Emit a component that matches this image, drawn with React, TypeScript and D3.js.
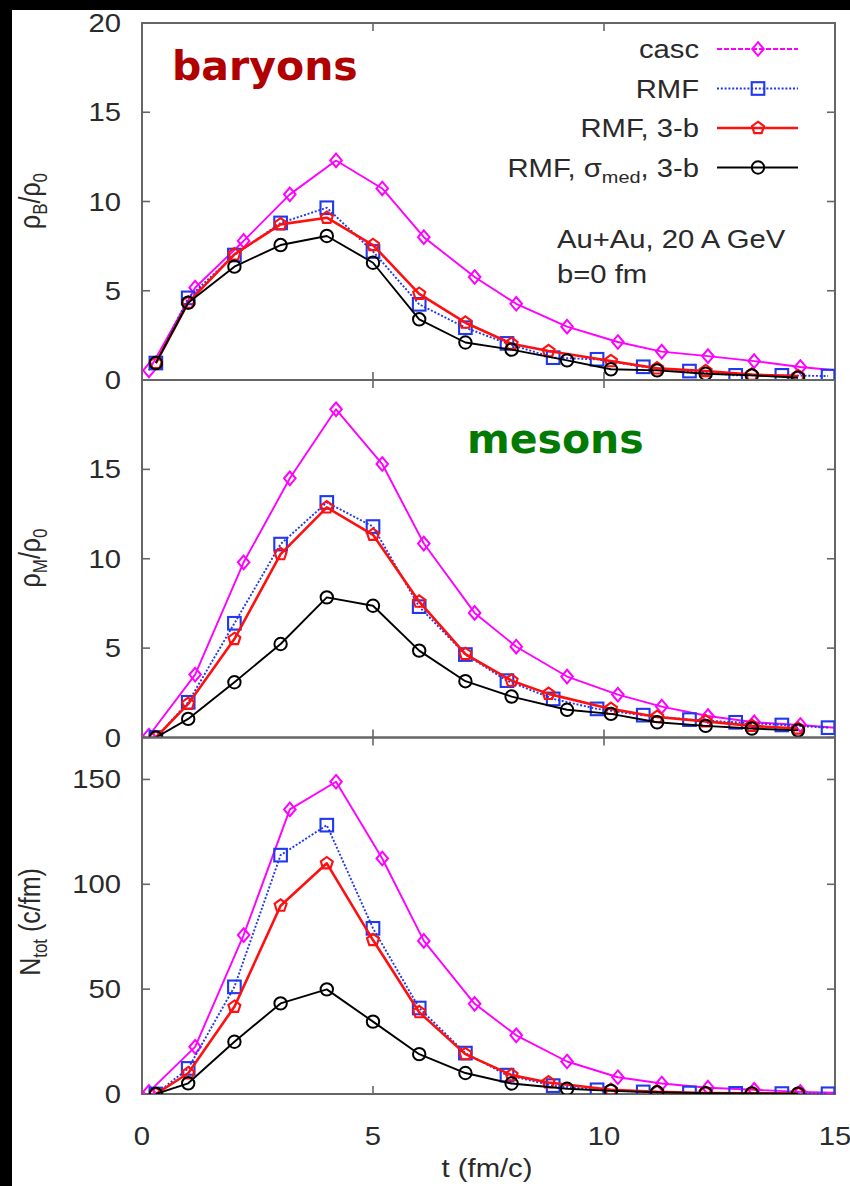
import React from "react";
import * as d3 from "d3";

// ---- data ----
const tCasc = [0.15, 1.15, 2.2, 3.2, 4.2, 5.2, 6.1, 7.2, 8.1, 9.2, 10.3, 11.25, 12.25, 13.25, 14.25, 15.2];
const tRMF = [0.3, 1, 2, 3, 4, 5, 6, 7, 7.9, 8.9, 9.85, 10.85, 11.85, 12.85, 13.85, 14.85];
const t3b = [0.3, 1, 2, 3, 4, 5, 6, 7, 8, 8.8, 10.15, 11.15, 12.2, 13.2, 14.2];
const tSig = [0.3, 1, 2, 3, 4, 5, 6, 7, 8, 9.2, 10.15, 11.15, 12.2, 13.2, 14.2];

const bCasc = [0.54, 5.17, 7.79, 10.4, 12.3, 10.73, 8.0, 5.77, 4.27, 2.99, 2.13, 1.59, 1.34, 1.06, 0.73, 0.5];
const bRMF = [0.95, 4.6, 7.0, 8.8, 9.65, 7.2, 4.24, 2.93, 2.05, 1.25, 1.16, 0.74, 0.5, 0.26, 0.26, 0.22];
const b3b = [0.95, 4.33, 7.04, 8.72, 9.09, 7.56, 4.83, 3.21, 2.03, 1.62, 1.06, 0.65, 0.5, 0.3, 0.22];
const bSig = [0.95, 4.33, 6.35, 7.56, 8.07, 6.57, 3.4, 2.1, 1.7, 1.1, 0.6, 0.54, 0.35, 0.26, 0.13];

const mCasc = [0.1, 3.52, 9.8, 14.5, 18.36, 15.3, 10.85, 6.97, 5.08, 3.41, 2.4, 1.73, 1.2, 0.85, 0.7, 0.5];
const mRMF = [0, 1.97, 6.39, 10.82, 13.15, 11.8, 7.32, 4.64, 3.18, 2.16, 1.6, 1.25, 1.0, 0.85, 0.7, 0.55];
const m3b = [0, 1.88, 5.51, 10.26, 12.87, 11.34, 7.6, 4.67, 3.18, 2.44, 1.6, 1.15, 0.9, 0.65, 0.5];
const mSig = [0, 1.04, 3.09, 5.23, 7.84, 7.37, 4.86, 3.15, 2.29, 1.55, 1.32, 0.85, 0.65, 0.5, 0.4];

const nCasc = [1, 22.5, 75.8, 135.7, 148.9, 112.3, 73, 43, 28, 15.5, 8, 5, 3, 2, 1, 0.5];
const nRMF = [0, 12.2, 51.1, 113.9, 128.2, 79, 41, 19.5, 9, 4, 2, 1, 0.5, 0.3, 0.2, 0.1];
const n3b = [0, 9.9, 41.6, 89.8, 110, 73.4, 39, 19, 9, 5.5, 2, 1, 0.5, 0.3, 0.2];
const nSig = [0, 5.1, 24.9, 43.2, 49.9, 34.5, 19, 10, 5, 2.5, 1.5, 0.8, 0.4, 0.3, 0.2];

const xTicks = [0, 5, 10, 15];
const yTicksB = [0, 5, 10, 15, 20];
const yTicksM = [0, 5, 10, 15];
const yTicksN = [0, 50, 100, 150];

const legendLabels = ["casc", "RMF", "RMF, 3-b", "RMF, σmed, 3-b"];

// ---- styles ----
const FONT = "'Liberation Sans', Arial, Helvetica, sans-serif";
const SX = 1.17; // horizontal stretch of the source lettering
const TXT = "#2a2a2a";
const series = [
  { key: "casc", color: "#ff00ff", width: 1.9, dash: null, legendDash: "5,2", marker: "diamond" },
  { key: "rmf", color: "#2038ee", width: 1.9, dash: "2,1.8", legendDash: "2,1.8", marker: "square" },
  { key: "3b", color: "#ff1010", width: 2.6, dash: null, legendDash: null, marker: "pentagon" },
  { key: "sig", color: "#000000", width: 1.9, dash: null, legendDash: null, marker: "circle" },
];

const W = 850, H = 1186;
const x = d3.scaleLinear().domain([0, 15]).range([142, 835]);

const panels = [
  { id: "p1", y: d3.scaleLinear().domain([0, 20]).range([380, 23]), ticks: yTicksB, labelTicks: yTicksB,
    data: [[tCasc, bCasc], [tRMF, bRMF], [t3b, b3b], [tSig, bSig]] },
  { id: "p2", y: d3.scaleLinear().domain([0, 20]).range([737.5, 380]), ticks: [0, 5, 10, 15, 20], labelTicks: yTicksM,
    data: [[tCasc, mCasc], [tRMF, mRMF], [t3b, m3b], [tSig, mSig]] },
  { id: "p3", y: d3.scaleLinear().domain([0, 170]).range([1094, 737.5]), ticks: yTicksN, labelTicks: yTicksN,
    data: [[tCasc, nCasc], [tRMF, nRMF], [t3b, n3b], [tSig, nSig]] },
];

function Marker({ type, cx, cy, color }: { type: string; cx: number; cy: number; color: string }) {
  if (type === "diamond") {
    const r = 6.8;
    return <path d={`M${cx},${cy - r}L${cx + r * 0.85},${cy}L${cx},${cy + r}L${cx - r * 0.85},${cy}Z`} fill="none" stroke={color} strokeWidth={2} />;
  }
  if (type === "square") {
    const r = 6.3;
    return <rect x={cx - r} y={cy - r} width={2 * r} height={2 * r} fill="none" stroke={color} strokeWidth={2.1} />;
  }
  if (type === "pentagon") {
    const r = 6.3;
    const pts = d3.range(5).map((i) => {
      const a = -Math.PI / 2 + (i * 2 * Math.PI) / 5;
      return [cx + r * Math.cos(a), cy + r * Math.sin(a)];
    });
    return <path d={"M" + pts.map((p) => p.join(",")).join("L") + "Z"} fill="none" stroke={color} strokeWidth={2.1} />;
  }
  return <circle cx={cx} cy={cy} r={6.2} fill="none" stroke={color} strokeWidth={2} />;
}

function SText({ x, y, anchor = "start", size, children, dy }: any) {
  return (
    <text transform={`translate(${x},${y}) scale(${SX},1)`} dy={dy} textAnchor={anchor} fontFamily={FONT} fontSize={size} fill={TXT}>
      {children}
    </text>
  );
}

export default function App() {
  const frameColor = "#666";
  const tickLen = 8;
  return (
    <svg width={W} height={H} style={{ position: "absolute", left: 0, top: 0 }} xmlns="http://www.w3.org/2000/svg">
      <rect x={0} y={0} width={W} height={H} fill="#000" />
      <rect x={12} y={10} width={W - 12} height={H - 10} fill="#fff" />
      <defs>
        {panels.map((p) => (
          <clipPath id={"clip-" + p.id} key={p.id}>
            <rect x={x(0)} y={p.y.range()[1]} width={x(15) - x(0)} height={p.y.range()[0] - p.y.range()[1]} />
          </clipPath>
        ))}
      </defs>

      {panels.map((p) => {
        const [y0, y1] = p.y.range();
        return (
          <g key={p.id}>
            <rect x={x(0)} y={y1} width={x(15) - x(0)} height={y0 - y1} fill="none" stroke={frameColor} strokeWidth={2} />
            {p.ticks.map((v) => (
              <g key={"yt" + v}>
                <line x1={x(0)} x2={x(0) + tickLen} y1={p.y(v)} y2={p.y(v)} stroke={frameColor} strokeWidth={1.6} />
                <line x1={x(15)} x2={x(15) - tickLen} y1={p.y(v)} y2={p.y(v)} stroke={frameColor} strokeWidth={1.6} />
              </g>
            ))}
            {xTicks.map((v) => (
              <g key={"xt" + v}>
                <line x1={x(v)} x2={x(v)} y1={y0} y2={y0 - tickLen} stroke={frameColor} strokeWidth={1.6} />
                <line x1={x(v)} x2={x(v)} y1={y1} y2={y1 + tickLen} stroke={frameColor} strokeWidth={1.6} />
              </g>
            ))}
            {p.labelTicks.map((v) => (
              <SText key={"yl" + v} x={121} y={p.y(v)} dy="0.36em" anchor="end" size={25}>{v}</SText>
            ))}
            <g clipPath={`url(#clip-${p.id})`}>
              {p.data.map(([ts, vs], si) => {
                const s = series[si];
                const pts: [number, number][] = vs.map((v, i) => [x(ts[i]), p.y(v)]);
                const path = d3.line()(pts) || "";
                return (
                  <g key={s.key}>
                    <path d={path} fill="none" stroke={s.color} strokeWidth={s.width} strokeDasharray={s.dash || undefined} strokeLinejoin="round" />
                    {pts.map(([px, py], i) => (
                      <Marker key={i} type={s.marker} cx={px} cy={py} color={s.color} />
                    ))}
                  </g>
                );
              })}
            </g>
          </g>
        );
      })}

      {xTicks.map((v) => (
        <SText key={"xl" + v} x={x(v)} y={1145} anchor="middle" size={25}>{v}</SText>
      ))}
      <SText x={487} y={1177} anchor="middle" size={25}>t (fm/c)</SText>

      {/* y axis titles */}
      <text transform={`translate(40,201) rotate(-90) scale(1,${SX})`} textAnchor="middle" fontFamily={FONT} fontSize={25} fill={TXT}>
        ρ<tspan fontSize={17} dy={6}>B</tspan><tspan dy={-6}>/ρ</tspan><tspan fontSize={17} dy={6}>0</tspan>
      </text>
      <text transform={`translate(40,558) rotate(-90) scale(1,${SX})`} textAnchor="middle" fontFamily={FONT} fontSize={25} fill={TXT}>
        ρ<tspan fontSize={17} dy={6}>M</tspan><tspan dy={-6}>/ρ</tspan><tspan fontSize={17} dy={6}>0</tspan>
      </text>
      <text transform={`translate(40,922) rotate(-90) scale(1,${SX})`} textAnchor="middle" fontFamily={FONT} fontSize={25} fill={TXT}>
        N<tspan fontSize={17} dy={6}>tot</tspan><tspan dy={-6}> (c/fm)</tspan>
      </text>

      {/* big labels */}
      <text x={172} y={80} fontFamily="'DejaVu Sans', Verdana, sans-serif" fontWeight="bold" fontSize={41} fill="#b00000">baryons</text>
      <text x={467} y={453} fontFamily="'DejaVu Sans', Verdana, sans-serif" fontWeight="bold" fontSize={41} fill="#007a00">mesons</text>

      {/* legend */}
      {series.map((s, i) => {
        const ly = 49 + i * 39.5;
        return (
          <g key={"lg" + s.key}>
            <SText x={699} y={ly} dy="0.36em" anchor="end" size={25}>
              {i < 3 ? legendLabels[i] : (
                <>
                  RMF, σ<tspan fontSize={17} dy={7}>med</tspan><tspan dy={-7}>, 3-b</tspan>
                </>
              )}
            </SText>
            <line x1={717} x2={798} y1={ly} y2={ly} stroke={s.color} strokeWidth={s.width} strokeDasharray={s.legendDash || undefined} />
            <Marker type={s.marker} cx={758} cy={ly} color={s.color} />
          </g>
        );
      })}

      <SText x={557} y={248} size={25}>Au+Au, 20 A GeV</SText>
      <SText x={557} y={283} size={25}>b=0 fm</SText>
    </svg>
  );
}
